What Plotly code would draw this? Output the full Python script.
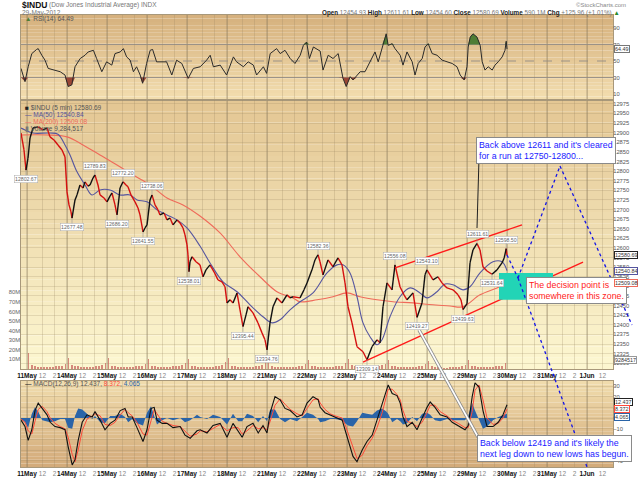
import plotly.graph_objects as go

# ---- values (x = trading sessions counted from the 11 May open) ----
days = ["11May", "14May", "15May", "16May", "17May", "18May", "21May", "22May",
        "23May", "24May", "25May", "29May", "30May", "31May", "1Jun"]

price_pts = [
    (-0.15, 12899), (-0.075, 12855), (-0.025, 12802.67), (0.025, 12834), (0.075, 12886), (0.15, 12912),
    (0.275, 12915), (0.4, 12907), (0.5, 12912), (0.575, 12889), (0.675, 12881), (0.775, 12868),
    (0.875, 12855), (0.95, 12837),
    (1.0, 12746), (1.05, 12712), (1.1, 12694), (1.125, 12677.48), (1.2, 12725), (1.25, 12738),
    (1.325, 12764), (1.4, 12756), (1.45, 12772), (1.525, 12761), (1.575, 12764), (1.65, 12782),
    (1.7, 12789.83), (1.775, 12764), (1.825, 12738), (1.925, 12730),
    (2.0, 12720), (2.075, 12735), (2.125, 12743), (2.2, 12712), (2.25, 12686.20), (2.3, 12730),
    (2.325, 12756), (2.4, 12772.20), (2.475, 12764), (2.525, 12759), (2.6, 12738), (2.7, 12720),
    (2.775, 12704), (2.825, 12686), (2.9, 12641.55), (2.95, 12652),
    (3.0, 12660), (3.075, 12725), (3.125, 12738.06), (3.2, 12712), (3.275, 12699), (3.325, 12686),
    (3.425, 12691), (3.5, 12673), (3.575, 12678), (3.65, 12660), (3.75, 12673), (3.825, 12665),
    (3.9, 12652), (3.95, 12634),
    (4.0, 12608), (4.025, 12582), (4.05, 12538.01), (4.075, 12564), (4.125, 12577), (4.225, 12564),
    (4.325, 12556), (4.4, 12525), (4.475, 12543), (4.575, 12556), (4.675, 12538), (4.775, 12517),
    (4.875, 12512), (4.95, 12499),
    (5.0, 12457), (5.075, 12465), (5.15, 12457), (5.25, 12483), (5.325, 12439), (5.4, 12395.44),
    (5.475, 12426), (5.525, 12447), (5.65, 12431), (5.775, 12405), (5.875, 12379), (5.95, 12361),
    (6.0, 12334.76), (6.075, 12405), (6.15, 12447), (6.25, 12470), (6.375, 12457), (6.5, 12478),
    (6.575, 12470), (6.65, 12473), (6.825, 12470), (6.925, 12491),
    (7.0, 12509), (7.125, 12543), (7.2, 12569), (7.275, 12582.36), (7.325, 12564), (7.4, 12530),
    (7.525, 12569), (7.65, 12551), (7.775, 12574), (7.875, 12556), (7.95, 12509),
    (8.025, 12447), (8.125, 12405), (8.25, 12343), (8.4, 12330), (8.5, 12309.14), (8.625, 12343),
    (8.75, 12361), (8.825, 12353), (8.9, 12447),
    (9.0, 12509), (9.125, 12491), (9.2, 12556.08), (9.325, 12499), (9.425, 12478), (9.5, 12465),
    (9.65, 12483), (9.75, 12419.27), (9.875, 12457), (9.95, 12530),
    (10.0, 12543.10), (10.075, 12530), (10.15, 12517), (10.275, 12525), (10.375, 12509), (10.5, 12496),
    (10.65, 12491), (10.775, 12478), (10.85, 12465), (10.9, 12439.63),
    (11.0, 12454.93), (11.075, 12561), (11.15, 12595), (11.25, 12611.61), (11.325, 12595), (11.4, 12551),
    (11.5, 12540), (11.625, 12531.64), (11.75, 12543), (11.875, 12561), (11.93, 12574),
    (11.98, 12598.50), (12.0, 12580.69),
]

ma50_pts = [
    (-0.15, 12912), (-0.05, 12907), (0.15, 12899), (0.575, 12899), (0.775, 12896), (0.95, 12868),
    (1.075, 12842), (1.25, 12798), (1.45, 12764), (1.625, 12738), (1.825, 12751), (2.075, 12751),
    (2.325, 12738), (2.575, 12738), (2.75, 12725), (3.0, 12720), (3.25, 12699), (3.5, 12686),
    (3.75, 12673), (4.0, 12652), (4.325, 12605), (4.575, 12561), (4.9, 12512), (5.25, 12486),
    (5.575, 12452), (5.9, 12421), (6.125, 12405), (6.325, 12413), (6.575, 12439), (6.825, 12460),
    (7.15, 12483), (7.5, 12535), (7.75, 12556), (7.9, 12556), (8.075, 12535), (8.25, 12473),
    (8.4, 12405), (8.575, 12369), (8.75, 12348), (8.875, 12361), (9.075, 12421), (9.325, 12473),
    (9.575, 12496), (9.825, 12483), (10.0, 12470), (10.25, 12486), (10.45, 12506), (10.65, 12504),
    (10.9, 12491), (11.075, 12499), (11.325, 12535), (11.65, 12564), (11.875, 12564), (12.0, 12540.84),
]

ma200_pts = [
    (-0.15, 12894), (0.5, 12894), (1.0, 12889), (1.4, 12868), (1.825, 12842), (2.25, 12816),
    (2.65, 12790), (3.075, 12764), (3.5, 12730), (3.9, 12712), (4.325, 12683), (4.825, 12639),
    (5.325, 12577), (5.825, 12525), (6.25, 12486), (6.65, 12470), (6.825, 12460), (7.25, 12465),
    (7.65, 12473), (8.0, 12483), (8.325, 12473), (8.75, 12465), (9.15, 12460), (9.65, 12457),
    (10.15, 12452), (10.575, 12449), (10.9, 12447), (11.325, 12478), (11.75, 12496), (12.0, 12509.08),
]

# volume in millions, one row of half-hour bars per session
volume_rows = [
    [17, 4, 3, 2, 2, 2, 2, 2, 2, 3, 3, 3, 5],
    [12, 4, 3, 3, 2, 2, 2, 2, 2, 3, 3, 4, 6],
    [11, 3, 3, 2, 2, 2, 2, 2, 2, 3, 3, 3, 5],
    [10, 3, 3, 2, 2, 2, 2, 2, 3, 3, 3, 4, 6],
    [10, 3, 3, 2, 2, 2, 2, 2, 2, 3, 3, 4, 7],
    [12, 3, 3, 2, 2, 2, 2, 2, 2, 3, 3, 4, 8],
    [11, 3, 2, 2, 2, 2, 2, 2, 2, 2, 3, 3, 5],
    [9, 3, 3, 2, 2, 2, 2, 2, 2, 3, 3, 3, 6],
    [10, 4, 3, 3, 2, 2, 2, 2, 2, 3, 3, 4, 5],
    [9, 3, 3, 2, 2, 2, 2, 2, 2, 2, 3, 3, 5],
    [8, 3, 2, 2, 2, 1, 1, 2, 2, 2, 2, 3, 4],
    [9, 3, 3, 2, 2, 2, 2, 2, 2, 3, 3, 3, 6],
]
last_volume = 9284517

rsi_pts = [
    (-0.15, 41), (-0.05, 25), (0.03, 43), (0.12, 59), (0.24, 64), (0.28, 65), (0.37, 57), (0.45, 51),
    (0.53, 41), (0.66, 39), (0.83, 37), (0.95, 33), (1.03, 19), (1.12, 21), (1.2, 43), (1.33, 53),
    (1.45, 57), (1.53, 61), (1.66, 63), (1.74, 53), (1.87, 37), (1.99, 49), (2.12, 45), (2.2, 59),
    (2.33, 61), (2.41, 65), (2.49, 55), (2.58, 51), (2.66, 37), (2.74, 43), (2.83, 33), (2.89, 23),
    (2.99, 47), (3.08, 63), (3.14, 64), (3.24, 49), (3.37, 49), (3.49, 49), (3.62, 33), (3.74, 51),
    (3.87, 47), (4.03, 29), (4.16, 41), (4.33, 43), (4.49, 51), (4.58, 57), (4.66, 43), (4.83, 45),
    (4.99, 33), (5.16, 55), (5.24, 49), (5.41, 43), (5.53, 49), (5.66, 45), (5.74, 33), (5.91, 43),
    (5.99, 35), (6.08, 59), (6.24, 65), (6.33, 59), (6.45, 63), (6.58, 53), (6.7, 47), (6.83, 57),
    (6.91, 69), (6.99, 73), (7.06, 53), (7.16, 67), (7.33, 62), (7.4, 39), (7.53, 57), (7.65, 53),
    (7.78, 59), (7.9, 29), (7.98, 19), (8.08, 31), (8.15, 27), (8.25, 33), (8.33, 37), (8.45, 37),
    (8.58, 49), (8.7, 61), (8.78, 49), (8.88, 67), (8.98, 83), (9.03, 69), (9.13, 71), (9.2, 65),
    (9.33, 57), (9.4, 45), (9.5, 61), (9.63, 49), (9.7, 33), (9.78, 47), (9.88, 53), (9.95, 67),
    (10.03, 71), (10.13, 59), (10.25, 57), (10.38, 51), (10.5, 49), (10.63, 47), (10.75, 43),
    (10.83, 33), (10.93, 27), (11.0, 43), (11.03, 67), (11.08, 79), (11.15, 83), (11.25, 79),
    (11.33, 69), (11.38, 49), (11.45, 39), (11.53, 43), (11.63, 39), (11.7, 45), (11.78, 49),
    (11.88, 55), (11.95, 63), (11.98, 74), (12.0, 64.49),
]

# (session, MACD, signal)
macd_rows = [
    (-0.15, -2, -1), (-0.05, -8, -4), (0.03, -21, -12), (0.12, -11, -15), (0.2, 7, -3), (0.28, 14, 8),
    (0.38, 9, 11), (0.5, 3, 6), (0.58, -4, 0), (0.7, -8, -5), (0.83, -9, -8), (0.95, -11, -10),
    (1.03, -27, -18), (1.13, -44, -34), (1.2, -39, -41), (1.28, -21, -30), (1.38, -4, -12), (1.5, 3, -1),
    (1.63, 1, 2), (1.7, 6, 4), (1.83, -2, 2), (1.95, -11, -6), (2.08, -5, -7), (2.2, -2, -4),
    (2.33, 7, 3), (2.45, 9, 8), (2.53, 1, 5), (2.63, 1, 2), (2.75, -9, -4), (2.9, -22, -15),
    (3.0, -11, -16), (3.1, 9, -2), (3.18, 10, 8), (3.25, -2, 4), (3.38, -5, -3), (3.5, -5, -5),
    (3.65, -9, -7), (3.83, -8, -8), (3.95, -16, -12), (4.08, -19, -17), (4.25, -12, -15), (4.33, -11, -12),
    (4.5, -14, -13), (4.65, -7, -10), (4.83, -5, -6), (5.0, -18, -12), (5.15, -5, -9), (5.28, -12, -9),
    (5.38, -18, -15), (5.5, -8, -12), (5.65, -5, -7), (5.78, -14, -10), (5.9, -7, -9), (6.0, -14, -11),
    (6.08, 5, -3), (6.2, 20, 12), (6.33, 17, 18), (6.45, 9, 13), (6.58, 7, 8), (6.75, 1, 4),
    (6.88, 3, 2), (7.0, 14, 9), (7.15, 20, 17), (7.28, 17, 18), (7.33, 10, 14), (7.45, 5, 8),
    (7.58, 3, 4), (7.7, 1, 2), (7.88, -2, 0), (7.95, -11, -6), (8.03, -22, -15), (8.15, -36, -28),
    (8.25, -41, -38), (8.38, -30, -35), (8.5, -22, -26), (8.63, -16, -19), (8.75, -2, -9), (8.88, 14, 5),
    (8.98, 24, 18), (9.03, 31, 27), (9.13, 23, 27), (9.25, 21, 22), (9.33, 14, 17), (9.4, 1, 7),
    (9.5, -8, -3), (9.63, -4, -5), (9.75, -11, -8), (9.88, 0, -4), (10.0, 10, 5), (10.08, 15, 12),
    (10.2, 10, 12), (10.33, 3, 6), (10.5, 1, 2), (10.63, -4, -2), (10.78, -7, -5), (10.95, -11, -9),
    (11.03, -7, -9), (11.13, 20, 6), (11.2, 33, 26), (11.3, 29, 31), (11.4, 7, 17), (11.5, -8, 0),
    (11.65, -8, -6), (11.78, -4, -5), (11.9, 3, 0), (12.0, 12.437, 8.372),
]

# swing points that carry a price tag
swing_lows = [-0.025, 1.125, 2.25, 2.9, 4.05, 5.4, 6.0, 8.5, 9.75, 10.9, 11.625]
swing_highs = [1.7, 2.4, 3.125, 7.275, 9.2, 10.0, 11.25, 11.98]

# trend channel drawn on the chart (session, price)
upper_channel = [(9.2, 12548), (12.375, 12660)]
lower_channel = [(8.4, 12303), (13.9, 12563)]
decision_zone = dict(x0=11.8, x1=13.15, y0=12465, y1=12535)

FONT = "Liberation Sans, Arial, sans-serif"

# page geometry (pixels) -> paper coords
L, R, T, B, W, H = 21, 27, 15, 12, 640, 479
PW, PH = W - L - R, H - T - B


def px(x):
    return (x - L) / PW


def py(y):
    return (H - B - y) / PH


rsi_dom = [py(100), 1.0]
main_dom = [py(369), py(100)]
macd_dom = [0.0, py(381)]

fig = go.Figure()

# price: up moves black, down moves red
up_x, up_y, dn_x, dn_y = [], [], [], []
for (x0, y0), (x1, y1) in zip(price_pts[:-1], price_pts[1:]):
    if y1 >= y0:
        up_x += [x0, x1, None]
        up_y += [y0, y1, None]
    else:
        dn_x += [x0, x1, None]
        dn_y += [y0, y1, None]

# volume bars
vol_x, vol_y = [], []
for k, row in enumerate(volume_rows):
    for i, v in enumerate(row):
        vol_x.append(k + (i + 0.5) / len(row))
        vol_y.append(v)

fig.add_trace(go.Bar(x=vol_x, y=vol_y, xaxis="x2", yaxis="y3", width=0.045,
                     marker=dict(color="rgba(200,100,95,0.75)", line_width=0)))

fig.add_trace(go.Scatter(x=[p[0] for p in ma200_pts], y=[p[1] for p in ma200_pts],
                         xaxis="x2", yaxis="y2", mode="lines",
                         line=dict(color="#ef6a5a", width=1.1, shape="spline")))
fig.add_trace(go.Scatter(x=[p[0] for p in ma50_pts], y=[p[1] for p in ma50_pts],
                         xaxis="x2", yaxis="y2", mode="lines",
                         line=dict(color="#55559f", width=1.1, shape="spline")))
fig.add_trace(go.Scatter(x=dn_x, y=dn_y, xaxis="x2", yaxis="y2", mode="lines",
                         line=dict(color="#d41010", width=1.4)))
fig.add_trace(go.Scatter(x=up_x, y=up_y, xaxis="x2", yaxis="y2", mode="lines",
                         line=dict(color="#111111", width=1.4)))

# RSI with overbought / oversold fills
rx = [p[0] for p in rsi_pts]
rv = [p[1] for p in rsi_pts]
fig.add_trace(go.Scatter(x=rx, y=[70] * len(rx), xaxis="x", yaxis="y", mode="lines",
                         line=dict(width=0), hoverinfo="skip"))
fig.add_trace(go.Scatter(x=rx, y=[max(v, 70) for v in rv], xaxis="x", yaxis="y", mode="lines",
                         line=dict(width=0), fill="tonexty", fillcolor="#4f7d35", hoverinfo="skip"))
fig.add_trace(go.Scatter(x=rx, y=[30] * len(rx), xaxis="x", yaxis="y", mode="lines",
                         line=dict(width=0), hoverinfo="skip"))
fig.add_trace(go.Scatter(x=rx, y=[min(v, 30) for v in rv], xaxis="x", yaxis="y", mode="lines",
                         line=dict(width=0), fill="tonexty", fillcolor="#9a4636", hoverinfo="skip"))
fig.add_trace(go.Scatter(x=rx, y=rv, xaxis="x", yaxis="y", mode="lines",
                         line=dict(color="#2a2a2a", width=1)))

# MACD
mx = [r[0] for r in macd_rows]
mm = [r[1] for r in macd_rows]
ms = [r[2] for r in macd_rows]
fig.add_trace(go.Scatter(x=mx, y=[a - b for a, b in zip(mm, ms)], xaxis="x3", yaxis="y4",
                         mode="lines", line=dict(width=0, color="#2a64a8"),
                         fill="tozeroy", fillcolor="#2a64a8"))
fig.add_trace(go.Scatter(x=mx, y=ms, xaxis="x3", yaxis="y4", mode="lines",
                         line=dict(color="#ff4a3a", width=1)))
fig.add_trace(go.Scatter(x=mx, y=mm, xaxis="x3", yaxis="y4", mode="lines",
                         line=dict(color="#111111", width=1.1)))

# ---- axes ----
tickvals, ticktext = [], []
for k, d in enumerate(days):
    tickvals += [k, k + 0.385, k + 0.692]
    ticktext += ["<b>%s</b>" % d, "<span style='color:#888'>12</span>",
                 "<span style='color:#888'>2</span>"]

xcommon = dict(range=[-0.15, 14.65], tickmode="array", tickvals=tickvals, ticktext=ticktext,
               showgrid=True, gridcolor="rgba(150,130,95,0.25)", gridwidth=1, zeroline=False,
               showline=True, linecolor="#a8987a", mirror=True, ticks="", automargin=False,
               tickfont=dict(size=6.5, color="#111", family=FONT), tickangle=0)
ycommon = dict(side="right", showline=True, linecolor="#a8987a", mirror=True, ticks="",
               zeroline=False, automargin=False, ticklabelstandoff=-2, tickformat="d",
               tickfont=dict(size=5.8, color="#555", family=FONT))

fig.update_layout(
    xaxis=dict(xcommon, anchor="y", showticklabels=False),
    xaxis2=dict(xcommon, anchor="y2"),
    xaxis3=dict(xcommon, anchor="y4"),
    yaxis=dict(ycommon, domain=rsi_dom, range=[2.7, 105.8], tickvals=[10, 30, 50, 70, 90],
               showgrid=False),
    yaxis2=dict(ycommon, domain=main_dom, range=[12285, 12985], tick0=12300, dtick=25,
                showgrid=True, gridcolor="rgba(150,130,95,0.22)"),
    yaxis3=dict(overlaying="y2", anchor="x2", side="left", range=[0, 281],
                tickvals=[10, 20, 30, 40, 50, 60, 70, 80],
                ticktext=["10M", "20M", "30M", "40M", "50M", "60M", "70M", "80M"],
                showgrid=False, zeroline=False, ticks="", automargin=False,
                tickfont=dict(size=5.8, color="#666", family=FONT)),
    yaxis4=dict(ycommon, domain=macd_dom, range=[-45.9, 34.7], dtick=10,
                showgrid=True, gridcolor="rgba(150,130,95,0.22)"),
)

shapes = []


def gradient(dom, top, bot, n=24):
    y0, y1 = dom
    for i in range(n):
        f = i / (n - 1)
        c = tuple(round(top[j] + (bot[j] - top[j]) * f) for j in range(3))
        shapes.append(dict(type="rect", xref="paper", yref="paper", x0=0, x1=1,
                           y1=y1 - (y1 - y0) * i / n, y0=y1 - (y1 - y0) * (i + 1) / n,
                           fillcolor="rgb(%d,%d,%d)" % c, line_width=0, layer="below"))


gradient(rsi_dom, (214, 177, 126), (242, 221, 174))
gradient(main_dom, (228, 199, 148), (252, 246, 208))
gradient(macd_dom, (240, 219, 172), (211, 171, 122))

for k in range(len(days)):
    for xr, yr in (("x", "y domain"), ("x2", "y2 domain"), ("x3", "y4 domain")):
        shapes.append(dict(type="line", xref=xr, yref=yr, x0=k, x1=k, y0=0, y1=1,
                           line=dict(color="rgba(125,112,90,0.5)", width=1), layer="below"))

for lvl, dash in ((70, "solid"), (30, "solid"), (50, "dash")):
    shapes.append(dict(type="line", xref="x domain", yref="y", x0=0, x1=1, y0=lvl, y1=lvl,
                       line=dict(color="#9a9288", width=1, dash=dash), layer="below"))

# drawn annotations: channel, zone, projections, callout leaders
for ch in (upper_channel, lower_channel):
    shapes.append(dict(type="line", xref="x2", yref="y2", x0=ch[0][0], y0=ch[0][1],
                       x1=ch[1][0], y1=ch[1][1], line=dict(color="#ff1a1a", width=1.4)))
shapes.append(dict(type="rect", xref="x2", yref="y2", fillcolor="#22d4b6", line_width=0,
                   **decision_zone))

proj_up = [(507, 255), (518, 278), (560, 166), (632, 325)]
proj_dn = [(518, 278), (587, 467)]
for path in (proj_up, proj_dn):
    for (a, b), (c, d) in zip(path[:-1], path[1:]):
        shapes.append(dict(type="line", xref="paper", yref="paper", x0=px(a), y0=py(b),
                           x1=px(c), y1=py(d), line=dict(color="#1414e6", width=1.3, dash="dot")))

shapes.append(dict(type="line", xref="paper", yref="paper", x0=px(479), y0=py(158),
                   x1=px(477), y1=py(228), line=dict(color="#222", width=1)))
shapes.append(dict(type="line", xref="paper", yref="paper", x0=px(419), y0=py(330),
                   x1=px(478), y1=py(437), line=dict(color="#8a8a8a", width=3.4)))
shapes.append(dict(type="line", xref="paper", yref="paper", x0=px(419), y0=py(330),
                   x1=px(478), y1=py(437), line=dict(color="#ffffff", width=1.6)))

fig.update_layout(shapes=shapes)

# ---- text ----
ann = []


def text(x, y, s, size=6.5, color="#444", xanchor="left", yanchor="middle", **kw):
    ann.append(dict(x=px(x), y=py(y), xref="paper", yref="paper", text=s, showarrow=False,
                    xanchor=xanchor, yanchor=yanchor, align="left",
                    font=dict(size=size, color=color, family=FONT), **kw))


text(20, 5, "<b>$INDU</b>", size=8.5, color="#111")
text(47, 5, "(Dow Jones Industrial Average) INDX", size=6.5, color="#777")
text(20, 13, "29-May-2012", size=6.5, color="#777")
text(628, 5, "©StockCharts.com", size=6, color="#888", xanchor="right")
g = "<span style='color:#777'>%s</span>"
text(622, 13, "<b>Open</b> " + g % "12454.93" + " <b>High</b> " + g % "12611.61" +
     " <b>Low</b> " + g % "12454.60" + " <b>Close</b> " + g % "12580.69" +
     " <b>Volume</b> " + g % "590.1M" + " <b>Chg</b> " + g % "+125.96 (+1.01%)" +
     " <span style='color:#2a8a2a'>▲</span>", size=6.3, color="#222", xanchor="right")

text(23, 19, "<span style='color:#4f7d35'>▲</span> RSI(14) %.2f" % rv[-1], size=6.5, color="#555")
text(23, 108, "<span style='color:#222'>■</span> $INDU (5 min) %.2f" % price_pts[-1][1], size=6.5, color="#555")
text(23, 115, "<span style='color:#55559f'>—</span> MA(50) %.2f" % ma50_pts[-1][1], size=6.5, color="#55559f")
text(23, 122, "<span style='color:#ef6a5a'>—</span> MA(200) %.2f" % ma200_pts[-1][1], size=6.5, color="#ef6a5a")
text(23, 129, "<span style='color:#777'>▮</span> Volume {:,}".format(last_volume), size=6.5, color="#555")
text(23, 384, "<span style='color:#111'>—</span> MACD(12,26,9) %.3f, " % mm[-1] +
     "<span style='color:#ff4a3a'>%.3f</span>, " % ms[-1] +
     "<span style='color:#2a64a8'>%.3f</span>" % (mm[-1] - ms[-1]), size=6.5, color="#555")

# callout boxes
box = dict(bgcolor="white", bordercolor="#8a8a8a", borderwidth=1, borderpad=2)
text(476, 137, "Back above 12611 and it's cleared<br>for a run at 12750-12800...", size=8.8,
     color="#1a1aff", yanchor="top", **box)
text(526, 277, "The decision point is<br>somewhere in this zone.", size=8.8,
     color="#ff1a1a", yanchor="top", **box)
text(477, 435, "Back below 12419 and it's likely the<br>next leg down to new lows has begun.", size=8.8,
     color="#1a1aff", yanchor="top", **box)

# swing tags
price_at = dict(price_pts)
for d in swing_lows + swing_highs:
    v = price_at[d]
    ann.append(dict(x=d, y=v, xref="x2", yref="y2", text="%.2f" % v, showarrow=True,
                    arrowhead=0, arrowwidth=0.6, arrowcolor="#999", ax=0,
                    ay=9 if d in swing_lows else -9,
                    font=dict(size=5.2, color="#666", family=FONT),
                    bgcolor="white", bordercolor="#aaa", borderwidth=0.5, borderpad=0.5))


# last-value tags on the right axes
def tag(yref, val, txt, color, yshift=0):
    ann.append(dict(x=1.0, y=val, xref="paper", yref=yref, text=txt, showarrow=False,
                    xanchor="left", yanchor="middle", xshift=1, yshift=yshift,
                    font=dict(size=5.4, color="#333", family=FONT),
                    bgcolor="white", bordercolor=color, borderwidth=1, borderpad=0))


tag("y", rv[-1], "%.2f" % rv[-1], "#777")
tag("y2", price_pts[-1][1], "%.2f" % price_pts[-1][1], "#222")
tag("y2", ma50_pts[-1][1], "%.2f" % ma50_pts[-1][1], "#55559f")
tag("y2", ma200_pts[-1][1], "%.2f" % ma200_pts[-1][1], "#ef6a5a")
tag("y3", last_volume / 1e6, str(last_volume), "#999")
tag("y4", mm[-1], "%.3f" % mm[-1], "#222", yshift=3)
tag("y4", ms[-1], "%.3f" % ms[-1], "#ff4a3a")
tag("y4", mm[-1] - ms[-1], "%.3f" % (mm[-1] - ms[-1]), "#2a64a8", yshift=-3)

fig.update_layout(
    annotations=ann,
    width=W, height=H,
    margin=dict(l=L, r=R, t=T, b=B, pad=0, autoexpand=False),
    paper_bgcolor="white",
    plot_bgcolor="rgba(0,0,0,0)",
    showlegend=False,
    bargap=0,
    font=dict(family=FONT),
)

# the page body has a default 8px margin; drop it so the figure fills the window
fig.write_html("out.html", config={"displayModeBar": False},
               post_script="document.body.style.margin='0px';")
